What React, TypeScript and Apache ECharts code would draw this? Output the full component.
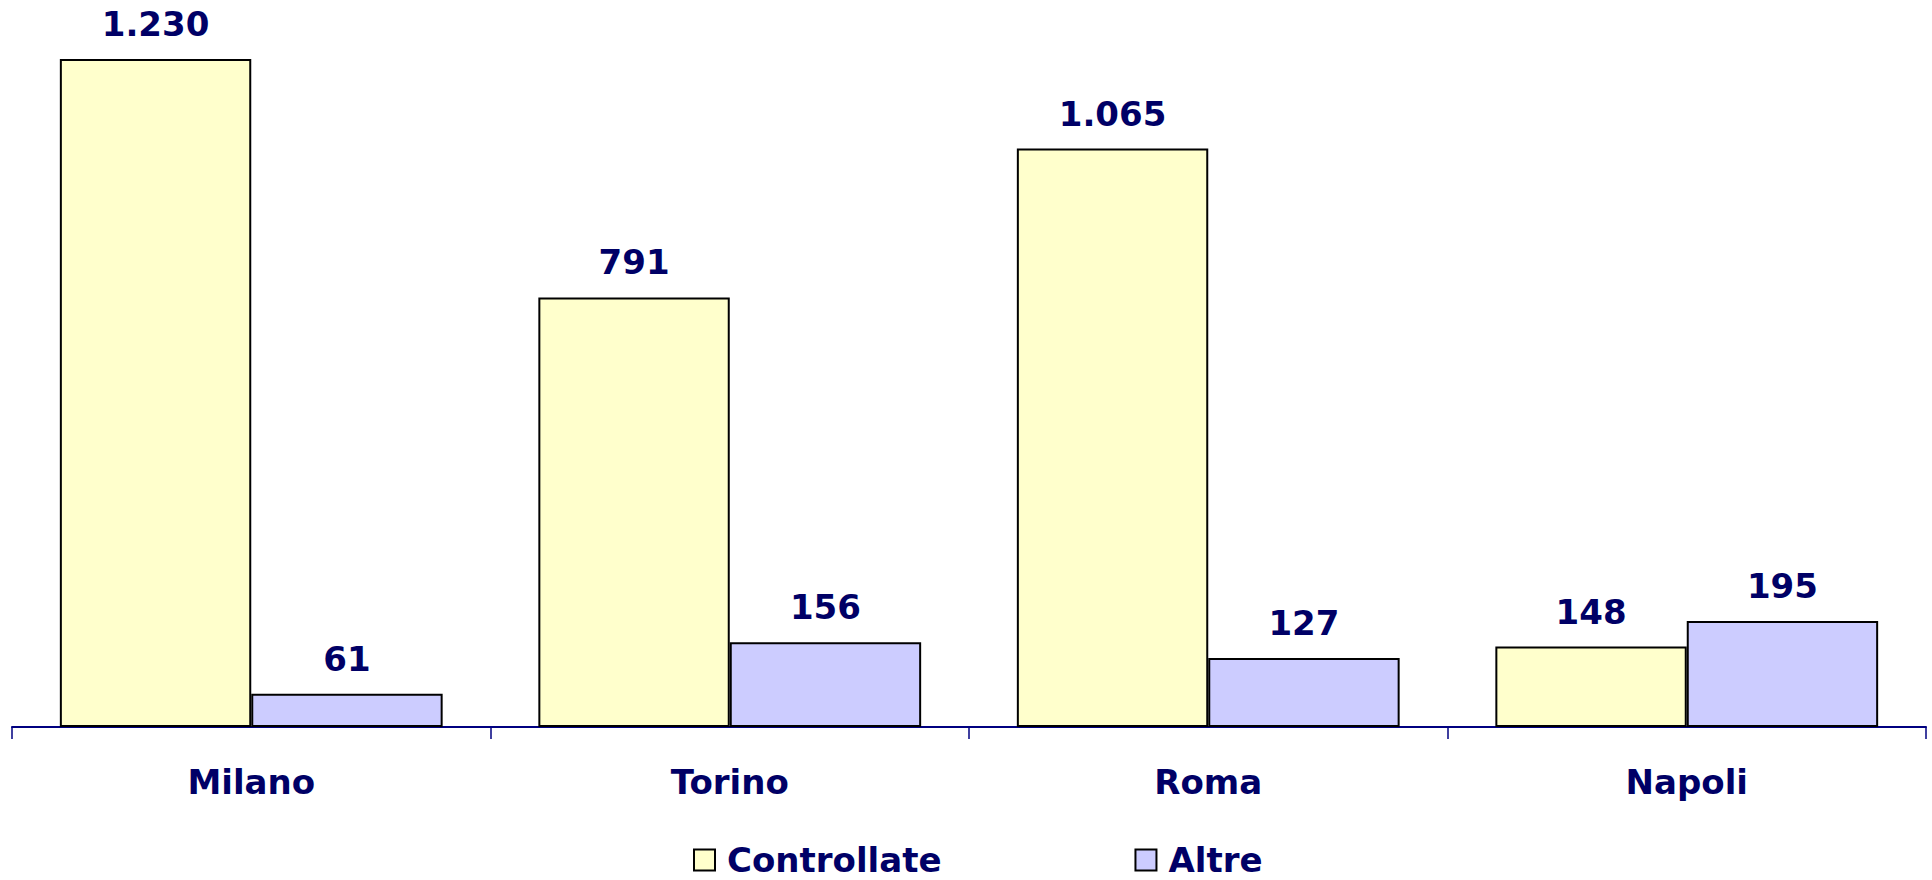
import React, { useEffect, useRef } from "react";
import * as echarts from "echarts";

const categories = ["Milano", "Torino", "Roma", "Napoli"];
const controllate = [1230, 791, 1065, 148];
const altre = [61, 156, 127, 195];
const seriesNames = ["Controllate", "Altre"];

const NAVY = "#000066";
const FONT = "DejaVu Sans";

const fmt = (v: number) => String(v).replace(/\B(?=(\d{3})+(?!\d))/g, ".");

export default function App() {
  const ref = useRef<HTMLDivElement>(null);
  useEffect(() => {
    document.body.style.margin = "0";
    if (!ref.current) return;
    const chart = echarts.init(ref.current, undefined, { renderer: "svg" });
    const label = {
      show: true,
      position: "top" as const,
      distance: 18,
      color: NAVY,
      fontFamily: FONT,
      fontWeight: "bold" as const,
      fontSize: 34,
      formatter: (p: any) => fmt(p.value),
    };
    chart.setOption({
      animation: false,
      backgroundColor: "#ffffff",
      grid: { left: 12, right: 6, top: 21, bottom: 153, containLabel: false },
      legend: {
        data: seriesNames,
        left: 688,
        top: 838,
        icon: "rect",
        itemWidth: 21,
        itemHeight: 21,
        itemGap: 193,
        itemStyle: { borderColor: "#000000", borderWidth: 2 },
        textStyle: {
          color: NAVY,
          fontFamily: FONT,
          fontWeight: "bold",
          fontSize: 34,
          lineHeight: 23,
          padding: [0, 0, 0, 7],
        },
      },
      xAxis: {
        type: "category",
        data: categories,
        axisLine: { show: true, lineStyle: { color: "#000080", width: 2 } },
        axisTick: { show: true, length: 12, lineStyle: { color: "#000080", width: 1.5 } },
        axisLabel: {
          color: NAVY,
          fontFamily: FONT,
          fontWeight: "bold",
          fontSize: 34,
          margin: 38,
        },
      },
      yAxis: {
        type: "value",
        min: 0,
        max: 1300,
        show: false,
        splitLine: { show: false },
      },
      series: [
        {
          name: seriesNames[0],
          type: "bar",
          data: controllate,
          barGap: "0%",
          barCategoryGap: "20%",
          itemStyle: { color: "#FFFFCC", borderColor: "#000000", borderWidth: 2 },
          label,
        },
        {
          name: seriesNames[1],
          type: "bar",
          data: altre,
          barGap: "0%",
          barCategoryGap: "20%",
          itemStyle: { color: "#CCCCFF", borderColor: "#000000", borderWidth: 2 },
          label,
        },
      ],
    });
    return () => chart.dispose();
  }, []);
  return <div ref={ref} style={{ width: 1932, height: 880 }} />;
}
